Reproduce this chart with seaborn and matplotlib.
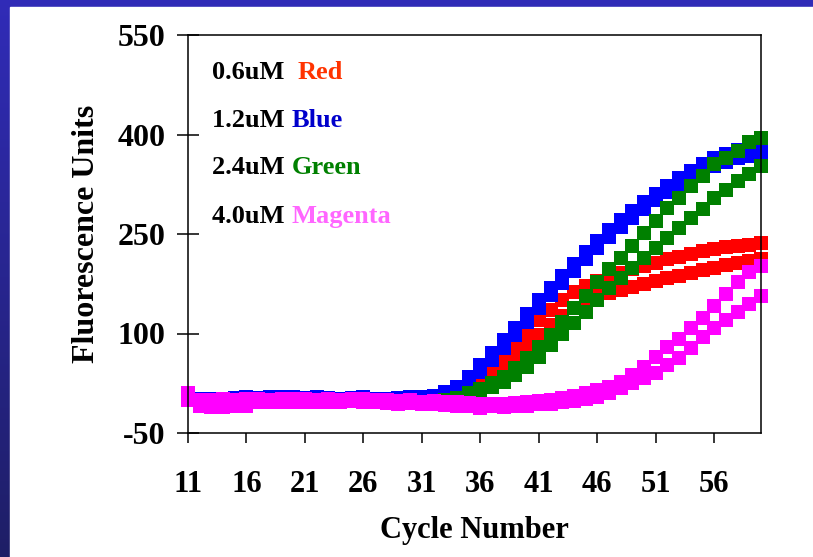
import matplotlib
matplotlib.use("Agg")
import matplotlib.pyplot as plt
from matplotlib.patches import Rectangle
import numpy as np
import pandas as pd
import seaborn as sns

# Cycle numbers and fluorescence readings (two replicates per primer concentration)
cycles = list(range(11, 61))

red_1 = [3, 1, 0, 0, 1, 2, 2, 3, 4, 3, 2, 3, 2, 1, 2, 2, 1, 0, 1, 2, 3, 4,
         8, 15, 25, 38, 52, 68, 85, 103, 120, 135, 150, 162, 172, 179, 186, 191,
         197, 202, 207, 212, 216, 220, 224, 227, 230, 232, 234, 236]
red_2 = [2, 0, -1, 0, 0, 1, 3, 2, 3, 4, 2, 1, 2, 0, 1, 1, 0, -1, 0, 1, 2, 3, 4,
         7, 12, 20, 35, 50, 65, 82, 98, 113, 126, 138, 148, 156, 161, 165, 170,
         175, 179, 183, 187, 191, 195, 199, 203, 207, 210, 213]
blue_1 = [4, 2, 1, 2, 3, 4, 3, 4, 5, 4, 3, 4, 3, 2, 3, 4, 2, 1, 3, 5, 4, 6,
          12, 20, 35, 53, 71, 90, 109, 130, 150, 169, 187, 205, 223, 240, 256, 271,
          285, 298, 311, 323, 335, 345, 355, 364, 371, 377, 381, 384]
blue_2 = [3, 1, 0, 1, 2, 3, 2, 3, 4, 3, 2, 3, 2, 1, 2, 3, 1, 0, 2, 4, 3, 5,
          8, 14, 27, 42, 60, 78, 98, 118, 138, 158, 176, 194, 212, 229, 245, 260,
          274, 288, 301, 313, 325, 335, 344, 352, 359, 364, 368, 371]
green_1 = [1, -2, -3, -2, -1, 0, 1, 0, 1, 2, 0, -1, 0, -2, -1, 0, -1, -3, -2, -1,
           -3, -2, 0, 3, 10, 17, 25, 35, 48, 63, 80, 98, 118, 138, 157, 177, 197,
           214, 232, 251, 269, 289, 304, 322, 337, 356, 364, 375, 389, 394]
green_2 = [0, -3, -4, -3, -2, -1, 0, -1, 0, 1, -1, -2, -1, -3, -2, -1, -2, -5, -4,
           -2, -5, -4, -2, 1, 8, 14, 20, 27, 37, 49, 64, 82, 100, 116, 132, 150,
           168, 184, 198, 214, 229, 244, 259, 274, 288, 305, 317, 330, 341, 352]
magenta_1 = [10, 0, 0, 1, 0, 2, 1, 0, 1, 2, 1, 0, 1, 0, 2, 1, 0, -1, -2, -1, -3,
             -2, -3, -4, -5, -6, -7, -6, -5, -4, -2, 0, 3, 6, 10, 15, 20, 27, 37,
             49, 64, 80, 92, 109, 124, 142, 160, 177, 192, 202]
magenta_2 = [0, -10, -11, -11, -10, -9, -4, -3, -4, -3, -4, -3, -4, -3, -2, -3, -4,
             -5, -6, -5, -7, -6, -8, -9, -10, -12, -10, -11, -10, -9, -7, -6, -4,
             -2, 1, 5, 10, 18, 26, 33, 41, 52, 63, 78, 94, 108, 120, 132, 145, 157]

series = [
    ("0.6uM", "Red", red_1, "#ff0000"),
    ("0.6uM", "Red", red_2, "#ff0000"),
    ("1.2uM", "Blue", blue_1, "#0000ff"),
    ("1.2uM", "Blue", blue_2, "#0000ff"),
    ("2.4uM", "Green", green_1, "#008000"),
    ("2.4uM", "Green", green_2, "#008000"),
    ("4.0uM", "Magenta", magenta_1, "#ff00ff"),
    ("4.0uM", "Magenta", magenta_2, "#ff00ff"),
]

legend_entries = [
    ("0.6uM  ", "Red", "#ff3300"),
    ("1.2uM ", "Blue", "#0000cc"),
    ("2.4uM ", "Green", "#008000"),
    ("4.0uM ", "Magenta", "#ff66ff"),
]

y_ticks = [-50, 100, 250, 400, 550]
x_ticks = [11, 16, 21, 26, 31, 36, 41, 46, 51, 56]

sns.set_theme(style="white")
plt.rcParams["font.family"] = ["Liberation Serif", "DejaVu Serif"]
plt.rcParams["font.weight"] = "bold"
plt.rcParams["text.color"] = "black"
plt.rcParams["axes.labelcolor"] = "black"
plt.rcParams["xtick.color"] = "black"
plt.rcParams["ytick.color"] = "black"

W, H = 813, 557
fig = plt.figure(figsize=(W / 100, H / 100), dpi=100)

# slide background: blue frame with a vertical gradient, white content area
bg = fig.add_axes([0, 0, 1, 1], zorder=-10)
grad = np.linspace(0, 1, 256).reshape(-1, 1)
top_c = np.array([0.19, 0.17, 0.72])
bot_c = np.array([0.12, 0.12, 0.40])
img = top_c[None, None, :] * (1 - grad[:, :, None]) + bot_c[None, None, :] * grad[:, :, None]
bg.imshow(img, aspect="auto", extent=[0, 1, 0, 1])
bg.add_patch(Rectangle((10 / W, 0), 1, 1 - 7 / H, color="white", zorder=2))
bg.set_xlim(0, 1)
bg.set_ylim(0, 1)
bg.axis("off")

ax = fig.add_axes([188 / W, 124 / H, (761 - 188) / W, (433 - 35) / H])
ax.set_facecolor("white")

for conc, name, vals, col in series:
    df = pd.DataFrame({"cycle": cycles, "fluor": vals})
    sns.lineplot(data=df, x="cycle", y="fluor", ax=ax, color=col, marker="s",
                 markersize=10.5, markeredgewidth=0, linewidth=1.2, clip_on=False)

ax.set_xlim(11, 60)
ax.set_ylim(-50, 550)
ax.set_xticks(x_ticks)
ax.set_yticks(y_ticks)
ax.set_xticklabels([str(t) for t in x_ticks])
ax.set_yticklabels([str(t) for t in y_ticks])

for s in ax.spines.values():
    s.set_visible(True)
    s.set_color("black")
    s.set_linewidth(1.1)

ax.tick_params(axis="y", direction="inout", length=16, width=1.1, colors="black",
               labelsize=23, pad=8, left=True)
ax.tick_params(axis="x", direction="out", length=7, width=1.1, colors="black",
               labelsize=22, pad=20, bottom=True)
for lab in ax.get_xticklabels() + ax.get_yticklabels():
    lab.set_fontweight("bold")
    lab.set_color("black")

ax.set_xlabel("Cycle Number", fontsize=22, fontweight="bold", labelpad=12, color="black")
ax.set_ylabel("Fluorescence Units", fontsize=23, fontweight="bold", labelpad=12, color="black")

ys = [0.905, 0.786, 0.666, 0.543]
for (conc, name, col), yy in zip(legend_entries, ys):
    t = ax.text(0.042, yy, conc, transform=ax.transAxes, fontsize=19,
                fontweight="bold", color="black", va="center", ha="left")
    ax.annotate(name, xy=(1, 0), xycoords=t, fontsize=19, fontweight="bold",
                color=col, va="bottom", ha="left")

fig.savefig("out.png", dpi=100, facecolor=fig.get_facecolor())
